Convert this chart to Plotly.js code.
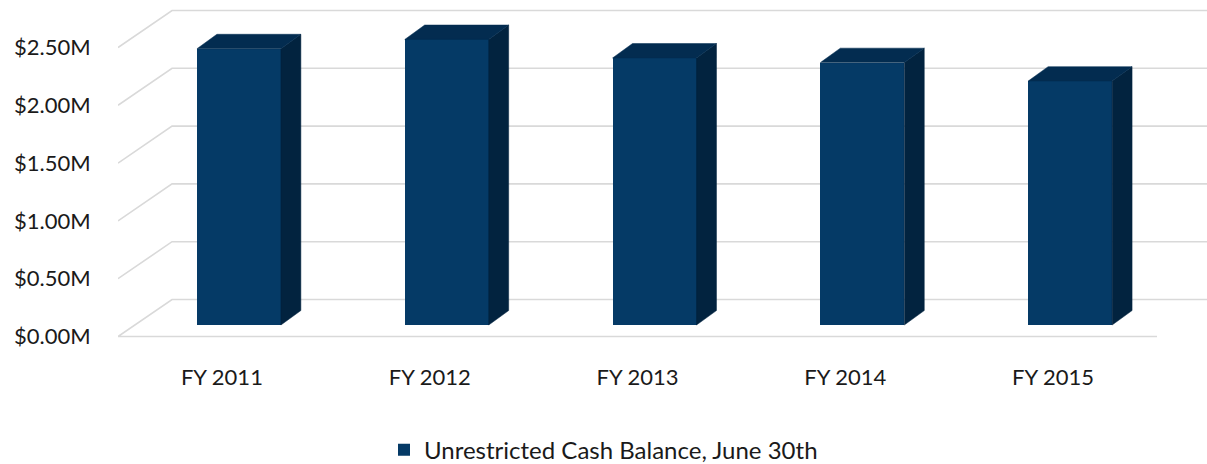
<!DOCTYPE html>
<html>
<head>
<meta charset="utf-8">
<script src="https://cdn.plot.ly/plotly-3.0.1.min.js"></script>
<style>html,body{margin:0;padding:0;background:#fff;}#chart{width:1207px;height:464px;}</style>
</head>
<body>
<div id="chart"></div>
<script>
// ---- data ----
const categories = ["FY 2011", "FY 2012", "FY 2013", "FY 2014", "FY 2015"];
const cashBalance = [2.39, 2.47, 2.31, 2.27, 2.11];   // $ millions
const seriesName = "Unrestricted Cash Balance, June 30th";
const yTicks = [0, 0.5, 1.0, 1.5, 2.0, 2.5];
const yTickLabels = ["$0.00M", "$0.50M", "$1.00M", "$1.50M", "$2.00M", "$2.50M"];

// ---- 3D styling (oblique projection offsets in axis units) ----
const wallDX = 0.26, wallDY = 0.32;      // back wall offset
const barDX = 0.082, barDY = 0.0995;     // bar front face offset from front plane
const depthDX = 0.096, depthDY = 0.125;  // bar depth
const barW = 0.404;
const cFront = "#053a66", cSide = "#02233f", cTop = "#032c50";
const gridColor = "#d9d9d9";
const FONT = "Lato, 'Open Sans', sans-serif";

const n = categories.length;
const idx = categories.map((_, i) => i);
const traces = [];

// gridlines (drawn below traces): left diagonal + back wall, plus front floor line
let gpath = "";
yTicks.forEach(v => {
  gpath += `M${-0.5},${v} L${-0.5 + wallDX},${v + wallDY} L${n - 0.5 + wallDX},${v + wallDY} `;
});
gpath += `M${-0.5},${yTicks[0]} L${n - 0.5},${yTicks[0]}`;
const shapes = [{type: "path", xref: "x", yref: "y", layer: "below", path: gpath,
  line: {color: gridColor, width: 1.6}}];

// side and top faces
cashBalance.forEach((v, i) => {
  const xl = i + barDX - barW / 2, xr = i + barDX + barW / 2;
  const yb = barDY, yt = barDY + v;
  traces.push({type: "scatter", mode: "lines", fill: "toself", fillcolor: cSide,
    x: [xr, xr, xr + depthDX, xr + depthDX, xr],
    y: [yb, yt, yt + depthDY, yb + depthDY, yb],
    line: {color: cSide, width: 0.5}, hoverinfo: "skip", showlegend: false});
  traces.push({type: "scatter", mode: "lines", fill: "toself", fillcolor: cTop,
    x: [xl, xr, xr + depthDX, xl + depthDX, xl],
    y: [yt, yt, yt + depthDY, yt + depthDY, yt],
    line: {color: cTop, width: 0.5}, hoverinfo: "skip", showlegend: false});
});

// front faces
traces.push({type: "bar", name: seriesName, x: idx.map(i => i + barDX), y: cashBalance,
  base: barDY, width: barW, marker: {color: cFront, line: {width: 0}}, showlegend: true});

const layout = {
  width: 1207, height: 464,
  margin: {l: 118, r: 0, t: 0, b: 114},
  paper_bgcolor: "#fff", plot_bgcolor: "rgba(0,0,0,0)",
  font: {family: FONT, size: 22, color: "#1a1a1a"},
  showlegend: true,
  shapes: shapes,
  xaxis: {range: [-0.5, 4.7406], tickvals: idx, ticktext: categories,
    showgrid: false, zeroline: false, showline: false,
    ticks: "outside", ticklen: 8, tickcolor: "rgba(0,0,0,0)", fixedrange: true},
  yaxis: {range: [-0.1168, 2.911], tickvals: yTicks, ticktext: yTickLabels,
    showgrid: false, zeroline: false, showline: false,
    ticks: "outside", ticklen: 22, tickcolor: "rgba(0,0,0,0)", fixedrange: true},
  legend: {orientation: "h", xref: "container", yref: "container",
    x: 0.5, xanchor: "center", y: 0.03, yanchor: "middle",
    font: {family: FONT, size: 24, color: "#1a1a1a"}},
  bargap: 0
};

Plotly.newPlot("chart", traces, layout, {displayModeBar: false, staticPlot: true});
</script>
</body>
</html>
